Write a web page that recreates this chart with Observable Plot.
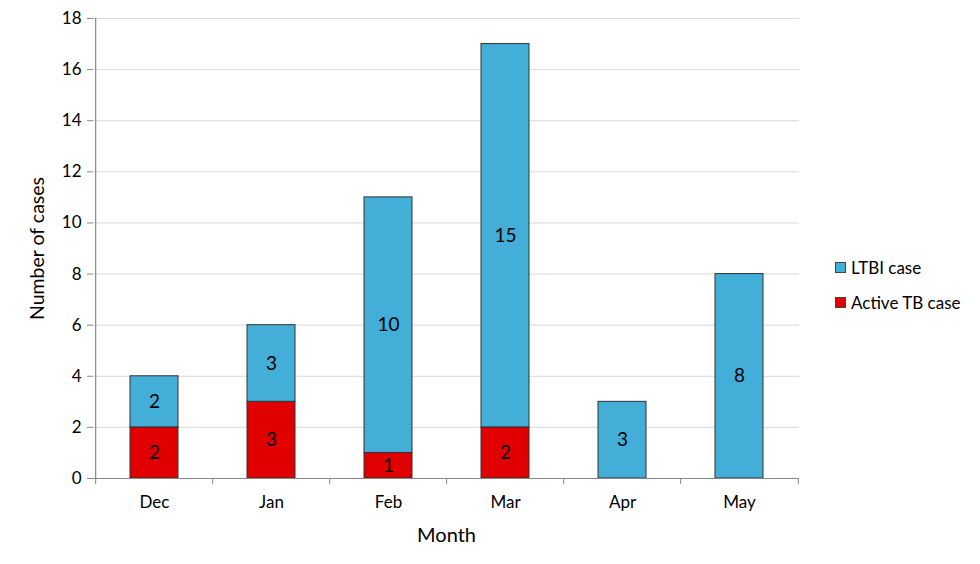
<!DOCTYPE html>
<html><head><meta charset="utf-8">
<script src="https://cdn.jsdelivr.net/npm/d3@7"></script>
<script src="https://cdn.jsdelivr.net/npm/@observablehq/plot@0.6"></script>
<style>
body{margin:0;background:#fff;}
#wrap{position:relative;width:980px;height:564px;font-family:Lato,"Open Sans",sans-serif;}
.leg{position:absolute;left:835px;font-size:17px;color:#000;display:flex;align-items:center;}
.sw{width:11px;height:11px;border:1px solid #444;box-sizing:border-box;margin-right:5px;}
</style></head>
<body><div id="wrap"></div>
<script>
const months = ["Dec","Jan","Feb","Mar","Apr","May"];
const activeTB = [2,3,1,2,0,0];
const ltbi = [2,3,10,15,3,8];
const yTicks = [0,2,4,6,8,10,12,14,16,18];
const seriesNames = ["Active TB case","LTBI case"];
const colors = ["#E00000","#43AED8"];
const xTitle = "Month";
const yTitle = "Number of cases";

const rows = [];
months.forEach((m,i)=>{
  const a = activeTB[i], l = ltbi[i];
  if (a>0) rows.push({month:m, type:seriesNames[0], y1:0, y2:a, v:a});
  if (l>0) rows.push({month:m, type:seriesNames[1], y1:a, y2:a+l, v:l});
});
rows.forEach(r=>r.mid=(r.y1+r.y2)/2);

const W=980,H=564, mL=93, mR=181, mT=18, mB=86;
const step=(W-mL-mR)/months.length;
const tickLen = 6*18/(H-mT-mB);

const chart = Plot.plot({
  width:W, height:H, marginLeft:mL, marginRight:mR, marginTop:mT, marginBottom:mB,
  style:{fontFamily:"Lato, 'Open Sans', sans-serif", fontSize:"17px", color:"#000", background:"#fff"},
  x:{domain:months, paddingInner:0.59, paddingOuter:0.295},
  y:{domain:[0,18]},
  color:{domain:seriesNames, range:colors},
  marks:[
    Plot.gridY(yTicks,{stroke:"#d9d9d9", strokeOpacity:1}),
    Plot.rect(rows,{x:"month", y1:"y1", y2:"y2", fill:"type", stroke:"#333", strokeWidth:1}),
    Plot.text(rows,{x:"month", y:"mid", text:"v", fontSize:19, fill:"#000"}),
    Plot.ruleY([0],{stroke:"#888", strokeWidth:1.2}),
    Plot.ruleX([months[0]],{dx:-step/2, y1:0, y2:18, stroke:"#888", strokeWidth:1.2}),
    Plot.ruleX(months,{x:d=>d, dx:-step/2, y1:-tickLen, y2:0, stroke:"#888"}),
    Plot.ruleX([months[months.length-1]],{dx:step/2, y1:-tickLen, y2:0, stroke:"#888"}),
    Plot.axisY(yTicks,{tickSize:6, stroke:"#888", tickPadding:6, fontSize:17, label:null}),
    Plot.axisX({tickSize:0, tickPadding:17, fontSize:17, label:null}),
    Plot.text([yTitle],{frameAnchor:"left", rotate:-90, dx:-56, textAnchor:"middle", lineAnchor:"middle", fontSize:19.5, fill:"#000"}),
    Plot.text([xTitle],{frameAnchor:"bottom", dy:57, textAnchor:"middle", lineAnchor:"middle", fontSize:20, fill:"#000"})
  ]
});
const wrap=document.getElementById("wrap");
wrap.appendChild(chart);
[[seriesNames[1],colors[1],257],[seriesNames[0],colors[0],292]].forEach(([n,c,t])=>{
  const d=document.createElement("div"); d.className="leg"; d.style.top=t+"px";
  d.innerHTML=`<span class="sw" style="background:${c}"></span><span>${n}</span>`;
  wrap.appendChild(d);
});
</script></body></html>
